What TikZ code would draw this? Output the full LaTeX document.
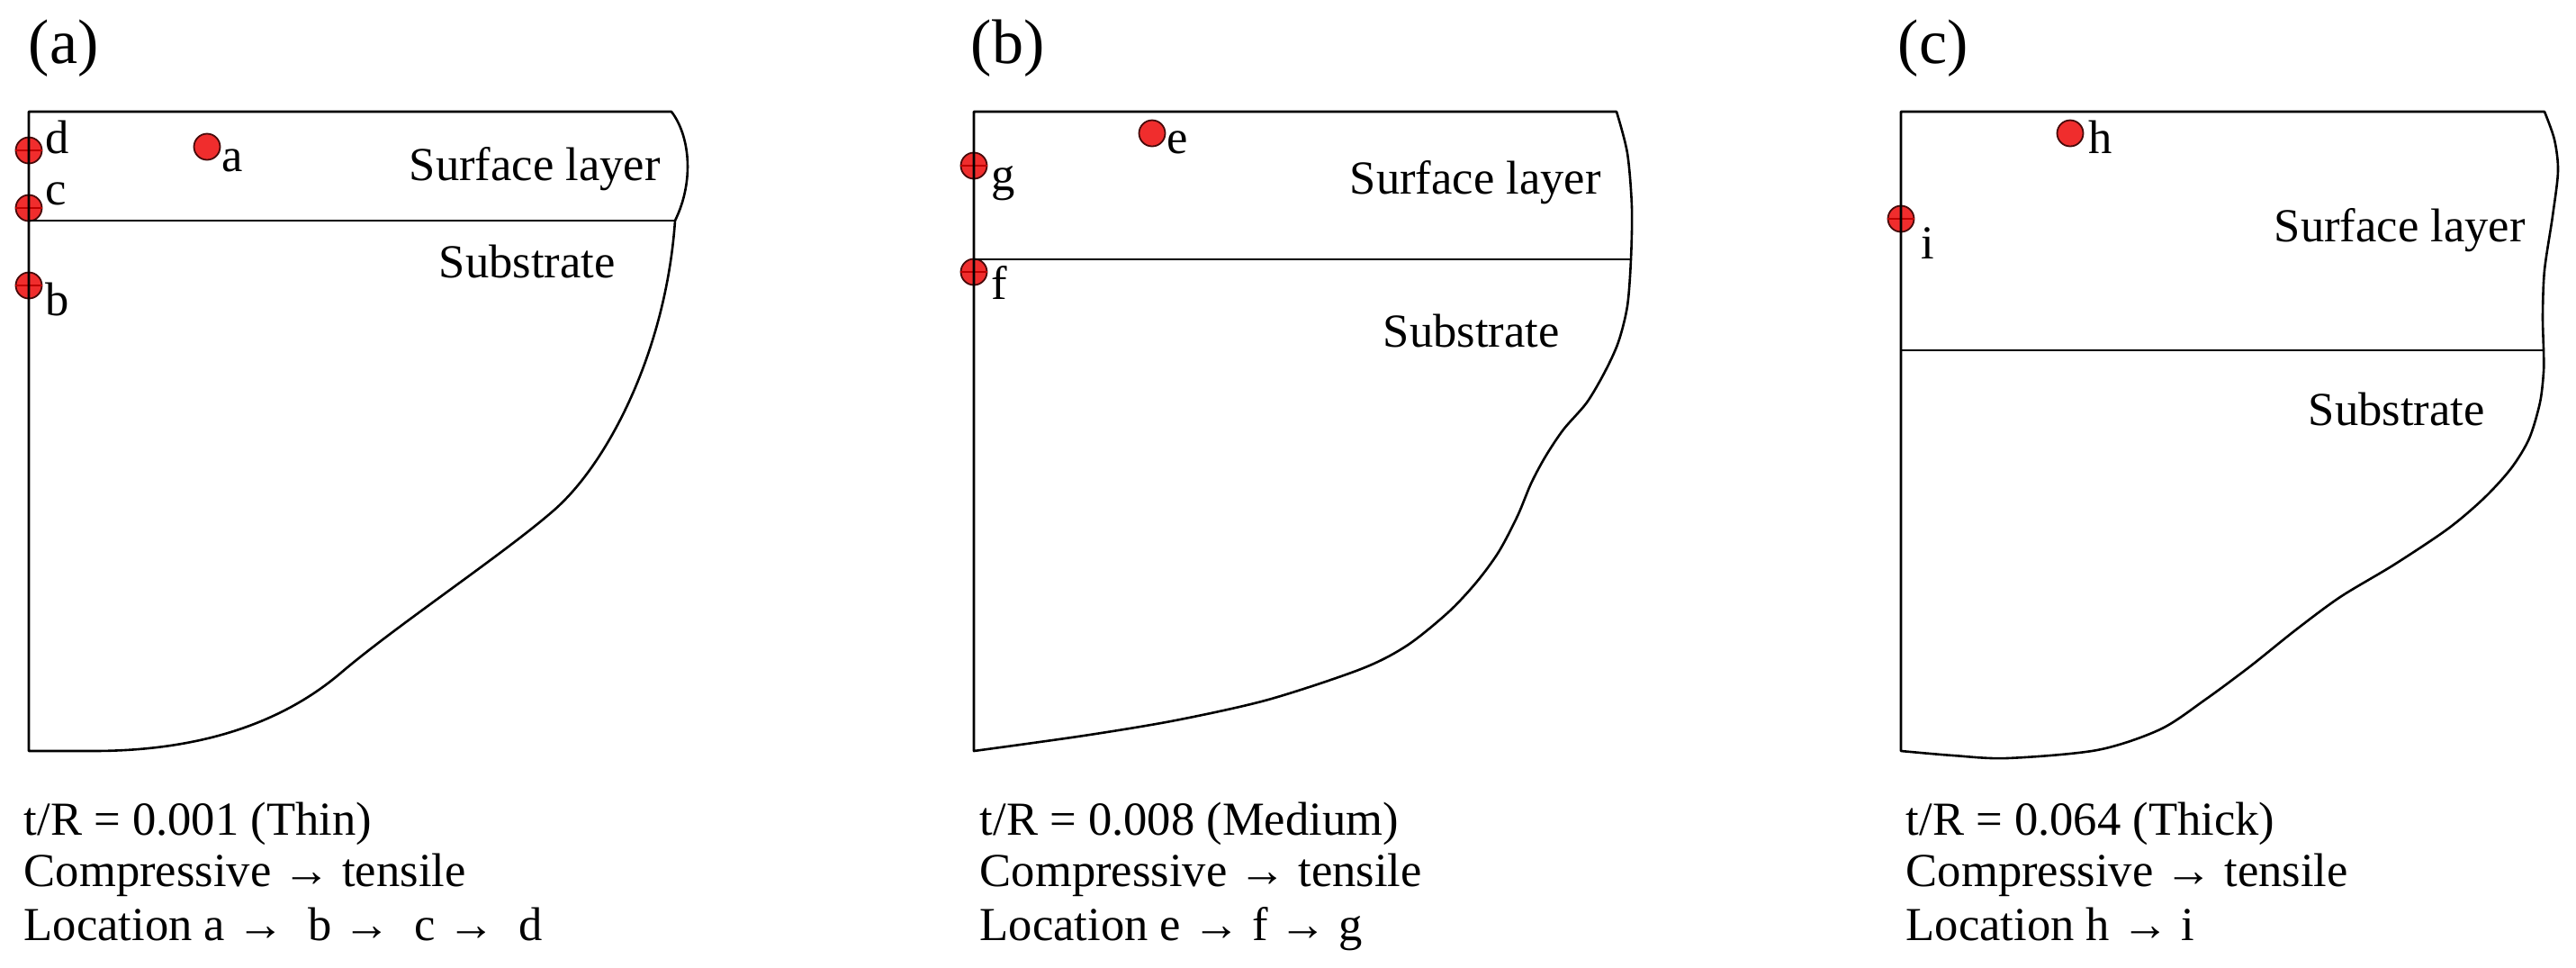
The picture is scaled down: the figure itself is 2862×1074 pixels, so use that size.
\documentclass[tikz,border=0pt]{standalone}
\usepackage{fontspec}
\setmainfont{Liberation Serif}
\definecolor{dotred}{RGB}{240,45,45}
\definecolor{dotedge}{RGB}{70,10,10}
\definecolor{dotline}{RGB}{190,0,0}
\begin{document}
\begin{tikzpicture}[x=0.25pt,y=-0.25pt,
  frame/.style={line width=0.65pt, line join=round},
  ptdot/.style={circle, fill=dotred, draw=dotedge, line width=0.45pt, minimum size=7.25pt, inner sep=0pt},
  ptcross/.style={draw=dotline, line width=0.3pt},
  lbl/.style={anchor=base west, inner sep=0pt, font=\fontsize{13.15}{15}\selectfont},
  captxt/.style={anchor=base west, inner sep=0pt, font=\fontsize{13.15}{15}\selectfont},
  paneltag/.style={anchor=base west, inner sep=0pt, font=\fontsize{17.5}{20}\selectfont}]
\useasboundingbox (0,0) rectangle (2862,1074);

% ---------------- panel (a) ----------------
\node[paneltag] (ta) at (31,70) {(a)};
\node[ptdot] (pa) at (230,163) {};
\node[ptdot] (pd) at (32,167) {};
\node[ptdot] (pc) at (32,231) {};
\node[ptdot] (pb) at (32,317) {};
\draw[ptcross] (pd.west) -- (pd.east);
\draw[ptcross] (pc.west) -- (pc.east);
\draw[ptcross] (pb.west) -- (pb.east);
\draw[frame] (32,124) -- (746,124) .. controls (766,150) and (772,200) .. (750,245)
  .. controls (740,390) and (675,515) .. (615,567)
  .. controls (560,615) and (440,695) .. (379,747)
  .. controls (318,799) and (230,834) .. (103,834) -- (32,834) -- cycle;
\draw[frame] (32,245) -- (750,245);
\node[lbl] (la) at (246,190) {a};
\node[lbl] (ld) at (50,170) {d};
\node[lbl] (lc) at (50,227) {c};
\node[lbl] (lb) at (50,350) {b};
\node[lbl] (sla) at (454,200) {Surface layer};
\node[lbl] (sba) at (487,308) {Substrate};
\node[captxt] (ca1) at (26,927) {t/R = 0.001 (Thin)};
\node[captxt] (ca2) at (26,984) {Compressive → tensile};
\node[captxt] (ca3) at (26,1044) {Location a → \ b → \ c → \ d};

% ---------------- panel (b) ----------------
\node[paneltag] (tb) at (1078,70) {(b)};
\node[ptdot] (pe) at (1280,148) {};
\node[ptdot] (pg) at (1082,184) {};
\node[ptdot] (pf) at (1082,302) {};
\draw[ptcross] (pg.west) -- (pg.east);
\draw[ptcross] (pf.west) -- (pf.east);
\draw[frame] (1082,124) -- (1796,124)
  -- plot[smooth] coordinates {(1796,124) (1808,170) (1813,230) (1812,288) (1808,340) (1798,380) (1783,413) (1763,447) (1737,477) (1717,507) (1701,537) (1686,573) (1665,613) (1640,647) (1609,680) (1563,717) (1512,743) (1409,777) (1306,800) (1204,817) (1082,834)} -- cycle;
\draw[frame] (1082,288) -- (1812,288);
\node[lbl] (le) at (1296,170) {e};
\node[lbl] (lg) at (1101,211) {g};
\node[lbl] (lf) at (1101,332) {f};
\node[lbl] (slb) at (1499,215) {Surface layer};
\node[lbl] (sbb) at (1536,385) {Substrate};
\node[captxt] (cb1) at (1088,927) {t/R = 0.008 (Medium)};
\node[captxt] (cb2) at (1088,984) {Compressive → tensile};
\node[captxt] (cb3) at (1088,1044) {Location e → f → g};

% ---------------- panel (c) ----------------
\node[paneltag] (tc) at (2108,70) {(c)};
\node[ptdot] (ph) at (2300,148) {};
\node[ptdot] (pi) at (2112,243) {};
\draw[ptcross] (pi.west) -- (pi.east);
\draw[frame] (2112,124) -- (2827,124)
  -- plot[smooth] coordinates {(2827,124) (2838,155) (2842,190) (2836,240) (2827,300) (2825,350) (2826,389) (2826,413) (2822,447) (2810,487) (2790,520) (2760,553) (2720,587) (2660,627) (2600,663) (2550,700) (2500,740) (2450,777) (2400,810) (2330,833) (2230,842) (2170,839) (2112,834)} -- cycle;
\draw[frame] (2112,389) -- (2826,389);
\node[lbl] (lh) at (2320,170) {h};
\node[lbl] (li) at (2134,287) {i};
\node[lbl] (slc) at (2526,268) {Surface layer};
\node[lbl] (sbc) at (2564,472) {Substrate};
\node[captxt] (cc1) at (2117,927) {t/R = 0.064 (Thick)};
\node[captxt] (cc2) at (2117,984) {Compressive → tensile};
\node[captxt] (cc3) at (2117,1044) {Location h → i};
\end{tikzpicture}
\end{document}
